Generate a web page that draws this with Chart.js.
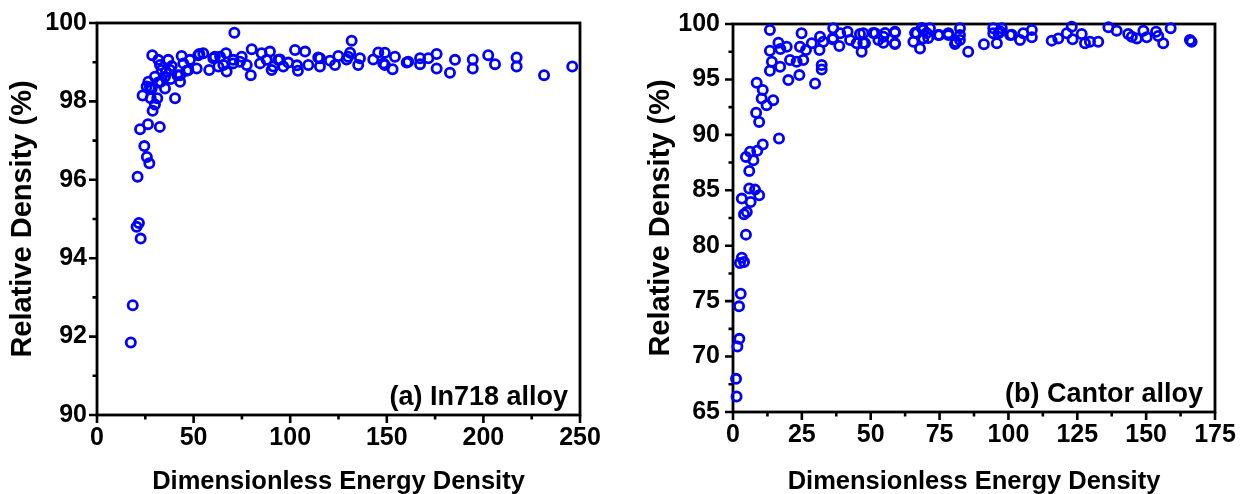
<!DOCTYPE html>
<html>
<head>
<meta charset="utf-8">
<script src="https://cdn.jsdelivr.net/npm/chart.js@4.4.1/dist/chart.umd.min.js"></script>
<style>
  body { margin: 0; background: #fff; }
  #left { position: absolute; left: 0; top: 0; width: 622px; height: 494px; }
  #right { position: absolute; left: 622px; top: 0; width: 623px; height: 494px; }
</style>
</head>
<body>
<div id="left"><canvas id="canvas_a"></canvas></div>
<div id="right"><canvas id="canvas_b"></canvas></div>
<script>
// (a) In718 alloy
const in718X = [17.5, 18.5, 20.5, 21.7, 22.6, 21.0, 24.5, 25.8, 27.1, 22.3, 26.4, 32.5, 28.8, 30.0, 31.2, 40.4,
  23.6, 27.8, 28.3, 25.7, 27.4, 26.6, 30.0, 31.7, 33.0, 35.2, 35.2, 38.1, 43.0, 43.0, 28.6, 31.7,
  32.6, 33.5, 36.9, 37.8, 38.7, 35.7, 41.6, 43.8, 44.7, 46.4, 47.3, 48.1, 51.6, 52.4, 53.0, 55.0,
  58.1, 60.2, 61.0, 62.8, 63.7, 65.4, 66.8, 67.1, 70.5, 70.5, 71.1, 74.0, 74.9, 77.5, 79.6, 80.1,
  84.4, 85.2, 87.8, 89.5, 90.4, 91.3, 93.8, 94.7, 96.4, 99.0, 102.5, 104.0, 103.5, 107.7, 109.4, 114.5,
  115.4, 115.4, 120.6, 123.2, 124.9, 129.2, 130.0, 131.0, 131.8, 135.2, 136.1, 143.0, 145.6, 148.2, 149.0, 149.0,
  153.0, 154.2, 160.3, 161.1, 167.2, 167.2, 171.5, 175.8, 175.8, 182.7, 185.3, 194.5, 194.5, 202.5, 206.0, 217.2,
  217.2, 231.4, 246.0];
const in718Y = [91.85, 92.8, 94.8, 94.9, 94.5, 96.08, 96.86, 96.58, 96.42, 97.29, 97.42, 97.35, 97.76, 97.92, 98.08, 98.08,
  98.15, 98.08, 98.33, 98.38, 98.36, 98.5, 98.63, 98.48, 98.5, 98.33, 98.63, 98.57, 98.67, 98.5, 99.18, 99.06,
  98.93, 98.8, 99.06, 98.8, 98.9, 98.76, 98.67, 99.16, 98.97, 98.78, 98.8, 99.06, 98.84, 99.18, 99.21, 99.23,
  98.8, 99.1, 99.14, 98.89, 99.14, 98.93, 99.23, 98.76, 98.97, 99.06, 99.75, 99.01, 99.14, 98.93, 98.67, 99.33,
  98.97, 99.23, 99.06, 99.27, 98.8, 98.89, 99.06, 99.07, 98.89, 98.99, 99.31, 98.78, 98.92, 99.27, 98.93, 99.12,
  98.89, 99.1, 99.04, 98.93, 99.16, 99.07, 99.14, 99.24, 99.55, 98.93, 99.1, 99.07, 99.25, 98.97, 99.24, 98.93,
  98.82, 99.14, 98.99, 99.01, 99.1, 98.95, 99.1, 99.21, 98.84, 98.73, 99.06, 99.07, 98.84, 99.18, 98.95, 99.12,
  98.89, 98.67, 98.89];
const in718XTicks = [0, 50, 100, 150, 200, 250];
const in718YTicks = [90, 92, 94, 96, 98, 100];

// (b) Cantor alloy
const cantorX = [1.1, 1.3, 1.6, 2.3, 2.2, 2.8, 2.5, 4.0, 3.2, 4.7, 4.0, 5.0, 3.2, 6.4, 5.9, 8.0,
  9.5, 5.9, 7.4, 4.7, 6.2, 8.8, 10.8, 16.7, 9.5, 8.4, 12.2, 14.6, 10.4, 10.8, 8.6,
  13.4, 16.5, 13.4, 14.1, 13.4, 17.1, 17.2, 19.5, 20.1, 20.7, 23.1, 24.3, 24.9, 24.1, 25.5, 26.5,
  28.6, 29.8, 31.6, 31.4, 32.2, 32.2, 32.8, 36.4, 36.2, 36.3, 38.6, 38.9, 41.6, 42.5, 44.9, 46.7,
  47.9, 47.3, 47.3, 46.1, 50.9, 51.6, 52.8, 54.6, 54.6, 55.2, 58.8, 58.8, 58.8, 58.8, 65.5, 66.1,
  66.7, 67.9, 68.5, 69.1, 69.1, 70.3, 71.5, 70.9, 74.5, 74.9, 78.2, 78.2, 80.6, 81.0, 82.4, 82.4,
  82.4, 85.4, 91.1, 94.5, 94.5, 95.8, 96.4, 96.9, 97.6, 100.6, 101.2, 104.2, 105.4, 108.5, 108.5, 115.7,
  118.1, 121.2, 123.0, 123.3, 126.6, 127.8, 129.6, 132.6, 136.3, 139.3, 143.5, 144.8, 146.6, 149.0, 150.2, 153.6,
  154.4, 156.2, 158.9, 165.9, 166.5];
const cantorY = [67.99, 66.4, 70.91, 71.6, 74.53, 75.67, 78.44, 78.53, 78.92, 81.0, 82.84, 83.05, 84.25, 83.95, 85.16, 85.06,
  84.55, 86.75, 87.71, 88.01, 88.47, 88.56, 89.13, 89.67, 91.17, 91.99, 92.68, 93.13, 93.29, 94.04, 94.7,
  99.46, 98.31, 97.59, 96.6, 95.78, 96.14, 97.74, 97.95, 94.94, 96.75, 96.6, 97.95, 99.16, 95.39, 96.75, 97.65,
  98.26, 94.64, 98.85, 97.65, 96.3, 95.9, 98.4, 99.61, 98.62, 98.74, 98.01, 99.16, 99.31, 98.55, 98.26, 97.5,
  98.26, 99.16, 98.28, 99.1, 99.19, 99.16, 98.55, 98.31, 98.85, 99.19, 98.26, 99.22, 98.19, 99.3, 98.4, 99.2,
  99.16, 97.8, 99.64, 99.46, 98.7, 99.19, 99.61, 98.74, 99.0, 99.0, 99.16, 99.0, 98.19, 98.37, 99.61, 99.0,
  98.55, 97.5, 98.17, 99.61, 99.16, 98.26, 99.16, 99.34, 99.61, 99.0, 99.03, 98.55, 99.16, 99.46, 98.8, 98.5,
  98.7, 99.16, 99.76, 98.62, 99.1, 98.26, 98.4, 98.4, 99.7, 99.4, 99.1, 98.85, 98.7, 99.4, 98.8, 99.3,
  98.92, 98.26, 99.61, 98.55, 98.4];
const cantorXTicks = [0, 25, 50, 75, 100, 125, 150, 175];
const cantorYTicks = [65, 70, 75, 80, 85, 90, 95, 100];

const FONT = "'Liberation Sans', Arial, sans-serif";
Chart.defaults.font.family = FONT;
Chart.defaults.font.weight = 'bold';
Chart.defaults.color = '#000';

function isMajor(list, v) {
  return list.some(m => Math.abs(m - v) < 1e-6);
}

function toPoints(xs, ys) {
  return xs.map((x, i) => ({ x: x, y: ys[i] }));
}

// frame, major/minor ticks and panel label
const panelPlugin = {
  id: 'panel',
  beforeDatasetsDraw(chart, args, opts) {
    const ctx = chart.ctx;
    const a = chart.chartArea;
    const xs = chart.scales.x, ys = chart.scales.y;
    ctx.save();
    ctx.strokeStyle = '#000';
    ctx.lineWidth = 2.8;
    ctx.strokeRect(a.left, a.top, a.right - a.left, a.bottom - a.top);
    ctx.lineWidth = 2.6;
    ctx.beginPath();
    xs.ticks.forEach(t => {
      const p = xs.getPixelForValue(t.value);
      const len = isMajor(opts.majorX, t.value) ? 8 : 4.5;
      ctx.moveTo(p, a.bottom);
      ctx.lineTo(p, a.bottom + len);
    });
    ys.ticks.forEach(t => {
      const p = ys.getPixelForValue(t.value);
      const len = isMajor(opts.majorY, t.value) ? 8 : 4.5;
      ctx.moveTo(a.left, p);
      ctx.lineTo(a.left - len, p);
    });
    ctx.stroke();
    ctx.restore();
  },
  afterDatasetsDraw(chart, args, opts) {
    const ctx = chart.ctx;
    const a = chart.chartArea;
    ctx.save();
    ctx.font = 'bold 27px ' + FONT;
    ctx.fillStyle = '#000';
    ctx.textAlign = 'right';
    ctx.textBaseline = 'alphabetic';
    ctx.fillText(opts.label, a.right - 12, a.bottom - 10);
    ctx.restore();
  }
};

function makeChart(id, xs, ys, xTicks, xStep, yTicks, yStep, label, area) {
  const ctx = document.getElementById(id).getContext('2d');
  return new Chart(ctx, {
    type: 'scatter',
    data: {
      datasets: [{
        data: toPoints(xs, ys),
        pointStyle: 'circle',
        pointRadius: 4.6,
        pointBorderWidth: 2.8,
        pointBorderColor: '#0000ff',
        pointBackgroundColor: 'rgba(0,0,0,0)',
        clip: false
      }]
    },
    options: {
      responsive: true,
      maintainAspectRatio: false,
      animation: false,
      events: [],
      layout: { padding: { left: 0, top: area.top, right: area.right, bottom: 0 } },
      plugins: {
        legend: { display: false },
        tooltip: { enabled: false },
        panel: { label: label, majorX: xTicks, majorY: yTicks }
      },
      scales: {
        x: {
          type: 'linear',
          min: xTicks[0],
          max: xTicks[xTicks.length - 1],
          border: { display: false },
          grid: { display: true, drawOnChartArea: false, drawTicks: true, tickLength: 8, tickColor: 'rgba(0,0,0,0)' },
          ticks: {
            stepSize: xStep,
            autoSkip: false,
            maxRotation: 0,
            padding: 3,
            font: { size: 25, weight: 'bold', lineHeight: 1 },
            callback: v => isMajor(xTicks, v) ? String(v) : ''
          },
          title: {
            display: true,
            text: 'Dimensionless Energy Density',
            font: { size: 25.5, weight: 'bold', lineHeight: 1 },
            padding: { top: 0, bottom: -1 }
          },
          afterFit: s => { s.height = area.xh; }
        },
        y: {
          type: 'linear',
          min: yTicks[0],
          max: yTicks[yTicks.length - 1],
          border: { display: false },
          grid: { display: true, drawOnChartArea: false, drawTicks: true, tickLength: 8, tickColor: 'rgba(0,0,0,0)' },
          ticks: {
            stepSize: yStep,
            autoSkip: false,
            padding: area.yPad,
            font: { size: 25, weight: 'bold', lineHeight: 1 },
            callback: v => isMajor(yTicks, v) ? String(v) : ''
          },
          title: {
            display: true,
            text: 'Relative Density (%)',
            font: { size: 29, weight: 'bold', lineHeight: 1 },
            padding: { top: area.titlePad, bottom: 0 }
          },
          afterFit: s => { s.width = area.yw; }
        }
      }
    },
    plugins: [panelPlugin]
  });
}

makeChart('canvas_a', in718X, in718Y, in718XTicks, 25, in718YTicks, 1, '(a) In718 alloy',
  { top: 23, right: 42, xh: 79, yw: 97, yPad: 2, titlePad: 8 });
makeChart('canvas_b', cantorX, cantorY, cantorXTicks, 12.5, cantorYTicks, 2.5, '(b) Cantor alloy',
  { top: 24, right: 30, xh: 82, yw: 111, yPad: 5, titlePad: 24 });
</script>
</body>
</html>
